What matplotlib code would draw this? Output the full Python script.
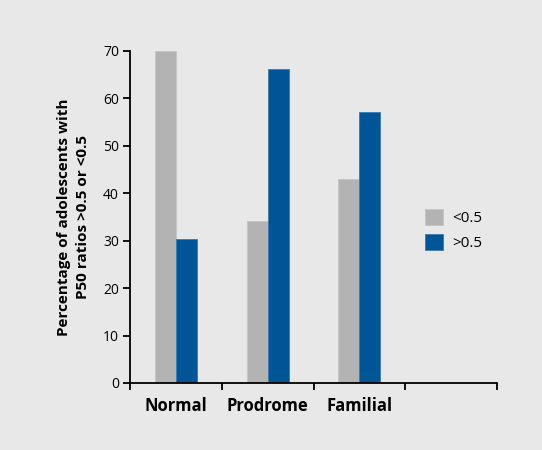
import numpy as np
import matplotlib.pyplot as plt

# dados
grupos = ['Normal', 'Prodrome', 'Familial']
menor = [70, 34.1, 43.0]   # <0.5
maior = [30.3, 66.1, 57.2]  # >0.5
rotulos_y = [0, 10, 20, 30, 40, 50, 60, 70]

plt.rcParams['font.family'] = ['Open Sans', 'DejaVu Sans']
fundo = '#e8e8e8'

fig = plt.figure(figsize=(5.42, 4.5), dpi=100, facecolor=fundo)
ax = fig.add_axes([0.2399, 0.149, 0.6772, 0.738])
ax.set_facecolor(fundo)

x = np.arange(len(grupos)) + 0.5
w = 0.229
ax.bar(x - w / 2, menor, w, color='#b3b3b3', edgecolor='#c4c4c4', linewidth=0.6, label='<0.5')
ax.bar(x + w / 2, maior, w, color='#005596', edgecolor='#3a78ad', linewidth=0.6, label='>0.5')

ax.set_xlim(0, 4)
ax.set_ylim(0, 70)
ax.set_yticks(rotulos_y)
ax.tick_params(axis='y', labelsize=10, length=5, width=1.3, direction='out', pad=3)

# ticks de separacao no eixo x e rotulos nos centros
ax.set_xticks([0, 1, 2, 3, 4])
ax.set_xticklabels([])
ax.tick_params(axis='x', which='major', length=5, width=1.3, direction='out')
ax.set_xticks(x, minor=True)
ax.set_xticklabels(grupos, minor=True, fontsize=12, fontweight='bold')
ax.tick_params(axis='x', which='minor', length=0, pad=10)

for lado in ['top', 'right']:
    ax.spines[lado].set_visible(False)
for lado in ['left', 'bottom']:
    ax.spines[lado].set_linewidth(1.3)

ax.set_ylabel('Percentage of adolescents with\nP50 ratios >0.5 or <0.5',
              fontsize=11, fontweight='bold', labelpad=9, linespacing=1.5)

ax.legend(loc='center left', bbox_to_anchor=(0.765, 0.46), frameon=False,
          fontsize=11, handlelength=1.2, handleheight=1.2, handletextpad=0.6,
          labelspacing=0.55)

fig.savefig('out.png', dpi=100, facecolor=fundo)
